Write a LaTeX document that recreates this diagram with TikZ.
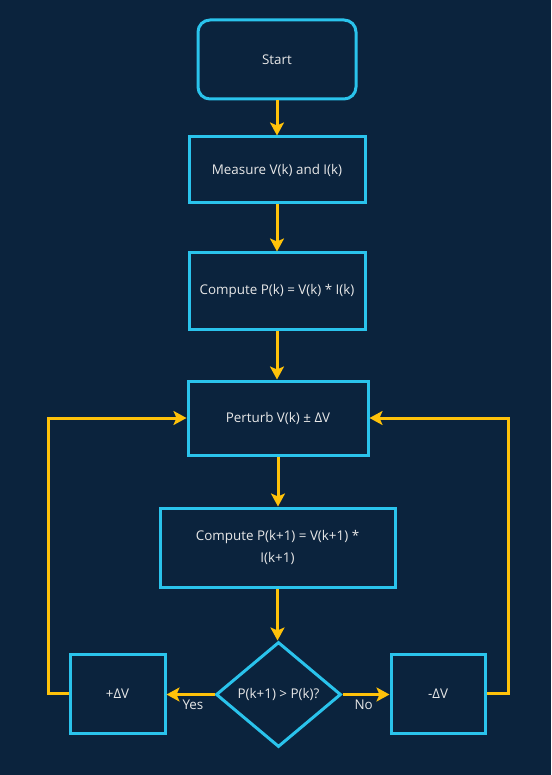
\documentclass[tikz,border=0pt]{standalone}
\usepackage{fontspec}
\setmainfont{Open Sans}
\usetikzlibrary{shapes.geometric,arrows.meta}
\definecolor{bg}{HTML}{0B233D}
\definecolor{boxc}{HTML}{2AC3EC}
\definecolor{arr}{HTML}{FFC20A}
\definecolor{txt}{HTML}{E8E8E8}
\begin{document}
\begin{tikzpicture}[x=1pt,y=1pt,
  every node/.style={font=\fontsize{13.4}{22}\selectfont, text=txt},
  procbox/.style={draw=boxc, line width=3pt, fill=bg, inner sep=0pt, align=center},
  startbox/.style={procbox, rounded corners=12pt},
  decbox/.style={draw=boxc, line width=3pt, fill=bg, shape=diamond, inner sep=0pt, aspect=1.19},
  flow/.style={draw=arr, line width=3pt, -{Stealth[length=13pt,width=14pt,inset=3pt]}},
  lbl/.style={font=\fontsize{13.4}{16}\selectfont, text=txt}
]
\fill[bg] (0,0) rectangle (551,-775);
\useasboundingbox (0,0) rectangle (551,-775);

\node[startbox, minimum width=158pt, minimum height=79pt] (start) at (277,-59.5) {Start};
\node[procbox, minimum width=176pt, minimum height=66pt] (meas) at (277,-170) {Measure V(k) and I(k)};
\node[procbox, minimum width=176pt, minimum height=76pt] (comp) at (277,-291) {Compute P(k) = V(k) * I(k)};
\node[procbox, minimum width=180pt, minimum height=74pt] (pert) at (278,-418) {Perturb V(k) ± ΔV};
\node[procbox, minimum width=235pt, minimum height=79pt] (comp2) at (277.5,-547.5) {Compute P(k+1) = V(k+1) *\\ I(k+1)};
\node[decbox, minimum width=125pt, minimum height=105pt] (dec) at (278.5,-694.5) {P(k+1) > P(k)?};
\node[procbox, minimum width=95pt, minimum height=79pt] (plus) at (117.5,-693.5) {+ΔV};
\node[procbox, minimum width=94pt, minimum height=79pt] (minus) at (438,-693.5) {-ΔV};

\coordinate (lcorner) at (48,-693.5);
\coordinate (rcorner) at (508,-693.5);

\draw[flow] (start.south) -- (meas.north);
\draw[flow] (meas.south) -- (comp.north);
\draw[flow] (comp.south) -- (comp.south |- pert.north);
\draw[flow] (pert.south) -- (pert.south |- comp2.north);
\draw[flow] (comp2.south) -- (comp2.south |- dec.north);
\draw[flow] (dec.west) -- node[lbl, below, pos=0.45, yshift=-1pt] {Yes} (dec.west -| plus.east);
\draw[flow] (dec.east) -- node[lbl, below, pos=0.45, yshift=-1pt] {No} (dec.east -| minus.west);
\draw[flow] (plus.west) -- (lcorner) |- (pert.west);
\draw[flow] (minus.east) -- (rcorner) |- (pert.east);
\end{tikzpicture}
\end{document}
